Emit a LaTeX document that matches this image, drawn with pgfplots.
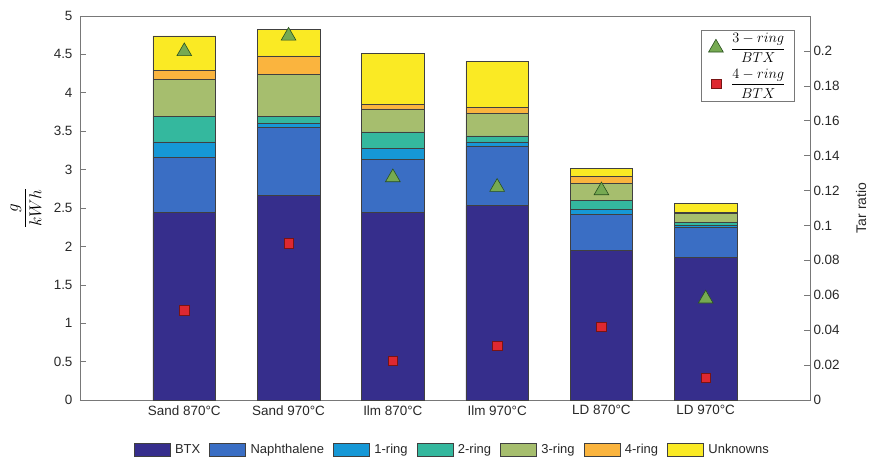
\documentclass[border=0pt]{standalone}
\usepackage{amsmath}
\usepackage{pgfplots}
\pgfplotsset{compat=1.18}
\usepackage{fontspec}
\setmainfont{Liberation Sans}
\definecolor{cBTX}{RGB}{54,46,140}
\definecolor{cNap}{RGB}{58,110,196}
\definecolor{cOne}{RGB}{22,152,214}
\definecolor{cTwo}{RGB}{52,184,158}
\definecolor{cThree}{RGB}{166,190,110}
\definecolor{cFour}{RGB}{250,180,62}
\definecolor{cUnk}{RGB}{250,234,36}
\definecolor{axgray}{RGB}{120,120,120}
\definecolor{txt}{RGB}{40,40,40}
\definecolor{triG}{RGB}{118,170,82}
\definecolor{triE}{RGB}{40,80,30}
\definecolor{sqR}{RGB}{222,40,48}
\definecolor{sqE}{RGB}{120,20,20}
\begin{document}
\begin{tikzpicture}
\begin{axis}[
  at={(0,0)}, anchor=south west,
  scale only axis, width=730bp, height=384bp,
  xmin=0, xmax=7, ymin=0, ymax=5,
  ybar stacked, bar width=0.6,
  xtick={1,2,3,4,5,6},
  xticklabels={Sand 870°C,Sand 970°C,Ilm 870°C,Ilm 970°C,LD 870°C,LD 970°C},
  ytick={0,0.5,1,1.5,2,2.5,3,3.5,4,4.5,5},
  yticklabels={0,0.5,1,1.5,2,2.5,3,3.5,4,4.5,5},
  ytick pos=left, xtick pos=bottom,
  major x tick style={draw=none},
  tick align=inside,
  major tick length=6bp,
  axis line style={axgray, line width=0.6bp},
  every tick/.style={axgray, line width=0.6bp},
  /pgf/number format/assume math mode=true,
  yticklabel style={font=\fontsize{13.5}{14}\selectfont, text=txt, xshift=-4bp},
  xticklabel style={font=\fontsize{13.5}{14}\selectfont, text=txt, yshift=-2bp},
  ylabel={$\dfrac{g}{kWh}$},
  ylabel style={at={(axis description cs:-0.074,0.5)}, anchor=center, font=\fontsize{16}{18}\selectfont},
  legend columns=7,
  legend style={at={(axis description cs:0.51,-0.105)}, anchor=north, draw=none,
    font=\fontsize{13}{14}\selectfont, text=txt,
    /tikz/every odd column/.append style={column sep=3bp},
    /tikz/every even column/.append style={column sep=7bp}},
  legend image code/.code={\draw[#1, line width=0.4bp] (0bp,-6.5bp) rectangle (36bp,6.5bp);},
  every axis plot/.append style={draw=black!75, line width=0.5bp},
]
\addplot[fill=cBTX] coordinates {(1,2.44) (2,2.66) (3,2.44) (4,2.53) (5,1.95) (6,1.86)};
\addlegendentry{BTX}
\addplot[fill=cNap] coordinates {(1,0.72) (2,0.89) (3,0.69) (4,0.78) (5,0.47) (6,0.39)};
\addlegendentry{Naphthalene}
\addplot[fill=cOne] coordinates {(1,0.20) (2,0.05) (3,0.15) (4,0.05) (5,0.06) (6,0.02)};
\addlegendentry{1-ring}
\addplot[fill=cTwo] coordinates {(1,0.33) (2,0.09) (3,0.21) (4,0.08) (5,0.12) (6,0.04)};
\addlegendentry{2-ring}
\addplot[fill=cThree] coordinates {(1,0.48) (2,0.55) (3,0.30) (4,0.29) (5,0.22) (6,0.12)};
\addlegendentry{3-ring}
\addplot[fill=cFour] coordinates {(1,0.12) (2,0.24) (3,0.06) (4,0.08) (5,0.09) (6,0.01)};
\addlegendentry{4-ring}
\addplot[fill=cUnk] coordinates {(1,0.45) (2,0.35) (3,0.66) (4,0.60) (5,0.11) (6,0.12)};
\addlegendentry{Unknowns}
\end{axis}
\begin{axis}[
  at={(0,0)}, anchor=south west,
  scale only axis, width=730bp, height=384bp,
  xmin=0, xmax=7, ymin=0, ymax=0.22,
  axis x line=none, axis y line*=right,
  ytick={0,0.02,0.04,0.06,0.08,0.1,0.12,0.14,0.16,0.18,0.2},
  yticklabels={0,0.02,0.04,0.06,0.08,0.1,0.12,0.14,0.16,0.18,0.2},
  tick align=inside,
  major tick length=6bp,
  axis line style={axgray, line width=0.6bp},
  every tick/.style={axgray, line width=0.6bp},
  yticklabel style={font=\fontsize{13.5}{14}\selectfont, text=txt},
  ylabel={Tar ratio},
  ylabel style={at={(axis description cs:1.07,0.5)}, anchor=center, font=\fontsize{14}{16}\selectfont, text=txt},
  legend style={at={(axis description cs:0.979,0.9635)}, anchor=north east,
    draw=axgray, line width=0.6bp, inner xsep=7bp, inner ysep=1bp,
    nodes={text height=, text depth=},
    row sep=3bp,
    /tikz/every odd column/.append style={column sep=6bp},
    /tikz/every even column/.append style={column sep=0bp}},
  clip=false,
]
\addplot[only marks, mark=triangle*, mark size=8.5bp, mark options={fill=triG, draw=triE, line width=0.6bp}]
  coordinates {(1,0.1997) (2,0.2086) (3,0.1275) (4,0.122) (5,0.120) (6,0.058)};
\addlegendentry{\fontsize{14}{14}\selectfont\rule[-7bp]{0pt}{20bp}$\dfrac{3-ring}{BTX}$}
\addplot[only marks, mark=square*, mark size=4.8bp, mark options={fill=sqR, draw=sqE, line width=0.4bp}]
  coordinates {(1,0.0515) (2,0.090) (3,0.0225) (4,0.031) (5,0.042) (6,0.0127)};
\addlegendentry{\fontsize{14}{14}\selectfont\rule[-7bp]{0pt}{20bp}$\dfrac{4-ring}{BTX}$}
\end{axis}
\pgfresetboundingbox
\path (-80bp,-57bp) rectangle (792bp,400bp);
\end{tikzpicture}
\end{document}
